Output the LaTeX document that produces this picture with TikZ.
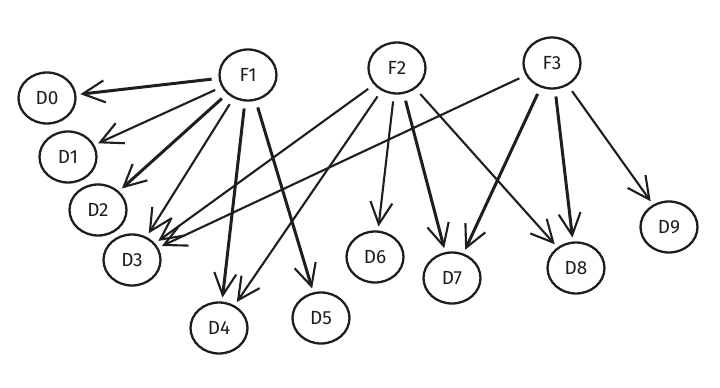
\documentclass[tikz,border=0pt]{standalone}
\usepackage{fontspec}
\setmainfont{Fira Sans}
\usetikzlibrary{shapes.geometric,arrows.meta}
\definecolor{ink}{HTML}{1E1E1E}
\begin{document}
\begin{tikzpicture}[x=1pt,y=-1pt,
 nd/.style={ellipse,draw=ink,text=ink,line width=2.3pt,minimum width=57pt,minimum height=51pt,inner sep=0pt,font=\fontsize{19}{19}\selectfont},
 ed/.style={draw=ink,line width=2.1pt,-{Straight Barb[length=22pt,width=22pt,line width=2.1pt]},shorten <=7pt,shorten >=4pt},
 edb/.style={ed,line width=3pt}]
\fill[white] (0,0) rectangle (720,388);
\useasboundingbox (0,0) rectangle (720,388);
\node[nd] (F1) at (248,75) {F1};
\node[nd] (F2) at (397,68) {F2};
\node[nd] (F3) at (552,63) {F3};
\node[nd] (D0) at (47,98) {D0};
\node[nd] (D1) at (68,157) {D1};
\node[nd] (D2) at (98,210) {D2};
\node[nd] (D3) at (132,260) {D3};
\node[nd] (D4) at (219,328) {D4};
\node[nd] (D5) at (321,318) {D5};
\node[nd] (D6) at (375,257) {D6};
\node[nd] (D7) at (452,278) {D7};
\node[nd] (D8) at (576,268) {D8};
\node[nd] (D9) at (669,227) {D9};
\draw[edb] (F1) -- (D0);
\draw[ed] (F1) -- (D1);
\draw[edb] (F1) -- (D2);
\draw[ed] (F1) -- (D3);
\draw[edb] (F1) -- (D4);
\draw[edb] (F1) -- (D5);
\draw[ed] (F2) -- (D3);
\draw[ed] (F2) -- (D4);
\draw[ed] (F2) -- (D6);
\draw[edb] (F2) -- (D7);
\draw[ed] (F2) -- (D8);
\draw[ed] (F3) -- (D3);
\draw[edb] (F3) -- (D7);
\draw[edb] (F3) -- (D8);
\draw[ed] (F3) -- (D9);
\end{tikzpicture}
\end{document}
